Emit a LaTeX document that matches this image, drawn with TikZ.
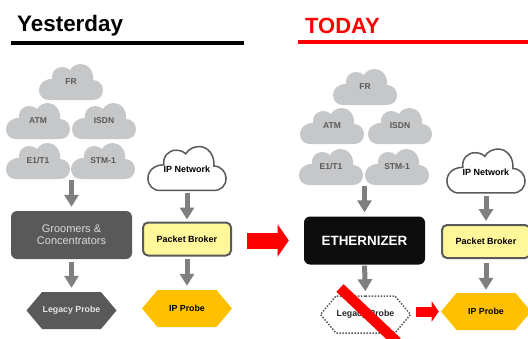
\documentclass[tikz,border=0pt]{standalone}
\usepackage{fontspec}
\setmainfont{Liberation Sans}
\usepackage{xcolor}
\usetikzlibrary{arrows.meta,shapes.symbols}
\definecolor{cloudgrey}{HTML}{C6C7C9}
\definecolor{darkgrey}{HTML}{595959}
\definecolor{arrowgrey}{HTML}{7F7F7F}
\definecolor{brokeryellow}{HTML}{FFF799}
\definecolor{probeamber}{HTML}{FFC000}
\newcommand{\cloudnode}[6]{%
	\path [#1, shift={#3}, scale=#4] (-22,-18) .. controls (-28,-18) and (-32,-14) .. (-32,-8)
		.. controls (-32,-2) and (-27,3) .. (-19,3)
		.. controls (-20,10) and (-15,15) .. (-9,15)
		.. controls (-6,15) and (-3,14) .. (-1,12)
		.. controls (1,16) and (6,18) .. (10,18)
		.. controls (17,18) and (23,11) .. (22,2)
		.. controls (28,2) and (32,-3) .. (32,-8)
		.. controls (32,-14) and (28,-18) .. (22,-18) -- cycle;
	\node [cloudlabel, minimum width=#4*64pt, minimum height=#4*36pt] (#2) at #3 {\raisebox{#5}{#6}};
}
\tikzset{
	greycloud/.style={fill=cloudgrey},
	linecloud/.style={draw=darkgrey, line width=1.5pt, fill=white},
	cloudlabel/.style={inner sep=0pt, font=\bfseries\fontsize{8.5}{10}\selectfont, text=darkgrey},
	flowarrow/.style={draw=arrowgrey, line width=5pt, -{Triangle[width=14pt,length=12pt]}},
	redarrow/.style={draw=red, -{Triangle[width=#1*2pt,length=#1*0.7pt]}, line width=#1*1pt},
	brokerbox/.style={draw=darkgrey, line width=2pt, fill=brokeryellow, rounded corners=5pt, minimum width=88pt, minimum height=33pt, font=\bfseries\fontsize{9}{11}\selectfont},
	mainbox/.style={rounded corners=6pt, minimum width=121pt, minimum height=48pt, align=center},
	probe/.style={signal, signal to=east and west, signal pointer angle=100, minimum width=90pt, minimum height=37pt, inner sep=0pt, font=\bfseries\fontsize{8.8}{10}\selectfont},
}
\begin{document}
\begin{tikzpicture}[x=1pt,y=1pt]
	\useasboundingbox (0,0) rectangle (528,-338);
	% yesterday
	\node [anchor=base west, inner sep=0pt, font=\bfseries\fontsize{22.4}{24}\selectfont] (titleleft) at (17,-31) {Yesterday};
	\draw [line width=4pt] (11,-43) -- (244,-43);
	\cloudnode{greycloud}{frleft}{(71,-82)}{1}{-4pt}{FR}
	\cloudnode{greycloud}{atmleft}{(38,-121)}{1}{-4pt}{ATM}
	\cloudnode{greycloud}{isdnleft}{(104,-121)}{1}{-4pt}{ISDN}
	\cloudnode{greycloud}{eoneleft}{(38,-161)}{1}{-4pt}{E1/T1}
	\cloudnode{greycloud}{stmleft}{(103,-161)}{1}{-4pt}{STM-1}
	\cloudnode{linecloud}{ipnetleft}{(187,-168.5)}{1.22}{-8.5pt}{\textcolor{black}{\fontsize{9}{11}\selectfont IP Network}}
	\node [mainbox, fill=darkgrey, text=white!85!black, font=\fontsize{11}{12}\selectfont] (groomers) at (71.5,-235) {Groomers \&\\Concentrators};
	\node [brokerbox] (brokerleft) at (187,-239) {Packet Broker};
	\node [probe, fill=darkgrey, text=white!90!black] (legacyleft) at (71.5,-310.5) {Legacy Probe};
	\node [probe, fill=probeamber] (ipprobeleft) at (187,-308.5) {IP Probe};
	\draw [flowarrow, shorten <=1pt, shorten >=4pt] (eoneleft.south east -| groomers.north) -- (groomers.north);
	\draw [flowarrow, shorten <=3pt, shorten >=4pt] (groomers.south) -- (legacyleft.north);
	\draw [flowarrow, shorten <=2pt, shorten >=2pt] (ipnetleft.south) -- (brokerleft.north);
	\draw [flowarrow, shorten <=2pt, shorten >=4pt] (brokerleft.south) -- (ipprobeleft.north);
	% today
	\node [anchor=base west, inner sep=0pt, text=red, font=\bfseries\fontsize{22}{24}\selectfont] (titleright) at (305,-33) {TODAY};
	\draw [red, line width=4pt] (298,-42) -- (528,-42);
	\cloudnode{greycloud}{frright}{(365,-87)}{1}{-4pt}{FR}
	\cloudnode{greycloud}{atmright}{(332,-126)}{1}{-4pt}{ATM}
	\cloudnode{greycloud}{isdnright}{(400,-126)}{1}{-4pt}{ISDN}
	\cloudnode{greycloud}{eoneright}{(331,-167)}{1}{-4pt}{E1/T1}
	\cloudnode{greycloud}{stmright}{(397,-167)}{1}{-4pt}{STM-1}
	\cloudnode{linecloud}{ipnetright}{(486,-171)}{1.22}{-8.5pt}{\textcolor{black}{\fontsize{9}{11}\selectfont IP Network}}
	\node [mainbox, fill=black!95, text=white, font=\bfseries\fontsize{13.4}{15}\selectfont] (ethernizer) at (364.5,-240.5) {ETHERNIZER};
	\node [brokerbox] (brokerright) at (486,-241.5) {Packet Broker};
	\node [probe, draw=darkgrey, line width=1.5pt, dash pattern=on 1.5pt off 1.5pt] (legacyright) at (365.5,-314.5) {\textcolor{black!85}{Legacy Probe}};
	\node [probe, fill=probeamber] (ipproberight) at (486,-311.5) {IP Probe};
	\draw [flowarrow, shorten <=1pt, shorten >=4pt] (eoneright.south east -| ethernizer.north) -- (ethernizer.north);
	\draw [flowarrow, shorten <=1pt, shorten >=4pt] (ethernizer.south) -- (legacyright.north);
	\draw [flowarrow, shorten <=3pt, shorten >=3pt] (ipnetright.south) -- (brokerright.north);
	\draw [flowarrow, shorten <=4pt, shorten >=3pt] (brokerright.south) -- (ipproberight.north);
	\coordinate (strikestart) at (340,-288);
	\coordinate (strikeend) at (397,-342);
	\draw [red, line width=10.5pt] (strikestart) -- (strikeend);
	\draw [redarrow=16, shorten <=15pt, shorten >=15pt] (brokerleft.east |- ethernizer.west) -- (ethernizer.west);
	\draw [redarrow=10, shorten <=5pt, shorten >=2pt] (legacyright.east |- ipproberight.west) -- (ipproberight.west);
\end{tikzpicture}
\end{document}
